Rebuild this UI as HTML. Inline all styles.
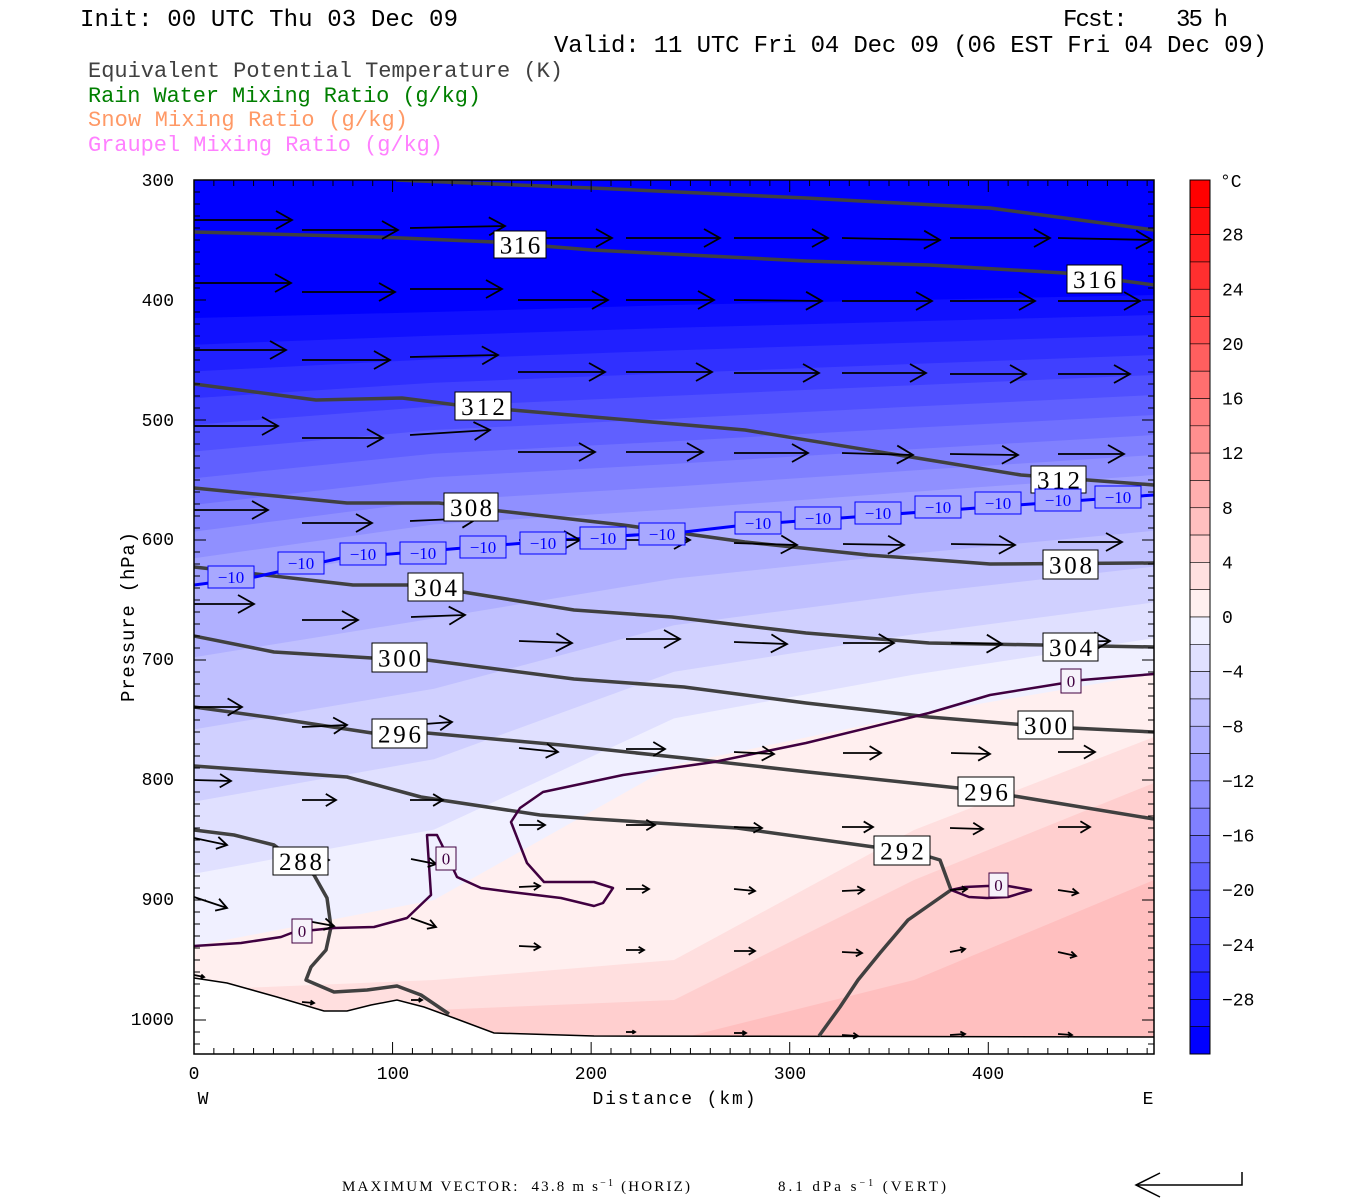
<!DOCTYPE html>
<html><head><meta charset="utf-8"><style>
html,body{margin:0;padding:0;background:#fff;width:1350px;height:1200px;overflow:hidden}
svg{display:block}
text{font-family:"Liberation Mono",monospace}
</style></head><body>
<svg id="s" width="1350" height="1200" viewBox="0 0 1350 1200" xmlns="http://www.w3.org/2000/svg">
<defs><clipPath id="pc"><rect x="194" y="180" width="960" height="874"/></clipPath></defs>
<g id="bands" clip-path="url(#pc)"></g>
<g clip-path="url(#pc)">
<polygon points="194,978 227,983 277,997 324,1011 347,1011 371,1005 397,1000 424,1007 454,1018 494,1033 594,1036 1154,1037 1154,1060 194,1060" fill="#fff"/>
<polyline points="194,978 227,983 277,997 324,1011 347,1011 371,1005 397,1000 424,1007 454,1018 494,1033 594,1036 1154,1037" fill="none" stroke="#000" stroke-width="1.5"/>
<g fill="none" stroke="#404040" stroke-width="3.5" stroke-linejoin="round">
<polyline points="396,180 592,188 806,198 990,208 1154,230"/>
<polyline points="194,232 378,237 494,242 592,250 806,261 929,265 1064,273 1154,285"/>
<polyline points="194,384 316,400 402,398 457,405 512,410 745,430 917,458 1021,475 1154,485"/>
<polyline points="194,488 347,503 439,503 500,511 623,525 745,542 868,555 990,564 1154,563"/>
<polyline points="194,567 353,585 408,585 463,592 574,610 672,617 806,633 929,643 1154,647"/>
<polyline points="194,636 274,652 372,658 427,660 574,679 684,687 806,703 929,717 1051,727 1154,732"/>
<polyline points="194,707 274,718 372,733 427,733 561,745 684,758 808,772 958,788 1014,796 1154,819"/>
<polyline points="194,766 347,777 421,797 540,815 594,819 737,828 874,847 930,857 940,860 951,890 908,920 880,953 858,980 840,1007 819,1036"/>
<polyline points="194,830 234,835 274,845 314,875 327,898 331,927 326,950 311,967 306,980 334,992 367,990 397,986 421,995 449,1014"/>
</g>
<polyline points="194,585 255,577 341,558 463,548 586,538 684,532 745,525 1154,495" fill="none" stroke="#0000ff" stroke-width="3"/>
<g fill="none" stroke="#400040" stroke-width="2.5" stroke-linejoin="round">
<polyline points="194,946 241,943 281,937 294,932 334,928 374,927 407,918 431,895 427,835 437,835 442,845 457,877 481,888 511,892 561,898 594,906 603,903 613,888 594,882 544,882 527,863 511,822 520,808 543,792 623,775 714,762 806,743 929,713 990,695 1064,683 1082,680 1154,674"/>
<polygon points="951,890 969,897 987,898 1008,897 1031,890 1008,886 987,886 965,887"/>
</g>
<g id="arrows" stroke="#000" stroke-width="1.8" fill="none"></g>
</g>
<g id="labels"></g>
<rect x="194" y="180" width="960" height="874" fill="none" stroke="#000" stroke-width="1.5"/>
<g id="ticks" stroke="#000" stroke-width="1"></g>
<g id="cbar"></g>
<g font-size="18" text-anchor="end">
<text x="174" y="186">300</text><text x="174" y="306">400</text><text x="174" y="426">500</text><text x="174" y="545">600</text><text x="174" y="665">700</text><text x="174" y="785">800</text><text x="174" y="905">900</text><text x="174" y="1025">1000</text>
</g>
<g font-size="18" text-anchor="middle">
<text x="194" y="1079">0</text><text x="393" y="1079">100</text><text x="591" y="1079">200</text><text x="790" y="1079">300</text><text x="988" y="1079">400</text>
<text x="203" y="1104">W</text><text x="1148" y="1104">E</text>
<text x="674" y="1104" textLength="163">Distance (km)</text>
</g>
<text transform="translate(134,617) rotate(-90)" font-size="19" text-anchor="middle" textLength="170">Pressure (hPa)</text>
<text x="80" y="26" font-size="24" textLength="378">Init: 00 UTC Thu 03 Dec 09</text>
<text x="1063" y="26" font-size="24" textLength="165" xml:space="preserve">Fcst:    35 h</text>
<text x="554" y="52" font-size="24" textLength="713">Valid: 11 UTC Fri 04 Dec 09 (06 EST Fri 04 Dec 09)</text>
<text x="88" y="77" font-size="22" fill="#404040" textLength="475">Equivalent Potential Temperature (K)</text>
<text x="88" y="102" font-size="22" fill="#007f00" textLength="393">Rain Water Mixing Ratio (g/kg)</text>
<text x="88" y="126" font-size="22" fill="#ff9966" textLength="320">Snow Mixing Ratio (g/kg)</text>
<text x="88" y="151" font-size="22" fill="#ff80ff" textLength="355">Graupel Mixing Ratio (g/kg)</text>
<text x="342" y="1191" font-size="15" textLength="348" style="font-family:'Liberation Serif',serif" xml:space="preserve">MAXIMUM VECTOR:  43.8 m s<tspan dy="-5" font-size="10">−1</tspan><tspan dy="5"> (HORIZ)</tspan></text>
<text x="778" y="1191" font-size="15" textLength="168" style="font-family:'Liberation Serif',serif">8.1 dPa s<tspan dy="-5" font-size="10">−1</tspan><tspan dy="5"> (VERT)</tspan></text>
<g stroke="#000" stroke-width="1.5" fill="none"><polyline points="1242,1172 1242,1185 1136,1185"/><polyline points="1160,1173 1136,1185 1160,1197"/></g>
</svg>
<script>
var NS="http://www.w3.org/2000/svg";
function el(p,t,a,txt){var e=document.createElementNS(NS,t);for(var k in a)e.setAttribute(k,a[k]);if(txt!=null)e.textContent=txt;p.appendChild(e);return e;}
function col(T){
  var i=Math.round(T/2);
  if(i<0){var v=Math.round((16+i)*16);v=Math.min(v,240);return "rgb("+v+","+v+",255)";}
  var v=Math.round(255-(i+1)*16);v=Math.max(v,0);return "rgb(255,"+v+","+v+")";
}
var cb=document.getElementById("cbar");
for(var b=0;b<32;b++){var T=30-2*b;var y=180+b*874/32;el(cb,"rect",{x:1190,y:y,width:20,height:874/32,fill:col(T),stroke:"#000","stroke-width":0.6});}
el(cb,"rect",{x:1190,y:180,width:20,height:874,fill:"none",stroke:"#000","stroke-width":1});
el(cb,"text",{x:1220,y:187,"font-size":"18"},"°C");
for(var v=28;v>=-28;v-=4){var y=180+(32-v)*874/64;el(cb,"text",{x:1222,y:y+6,"font-size":"18"},(v<0?"−":"")+Math.abs(v));}
var xs=[194,434,674,914,1154];
var Y={"-30":[318,312,305,300,295],"-10":[585,548,532,513,495],"0":[946,900,765,715,674],
"2":[990,980,960,830,737],"4":[1100,1010,1000,880,783],"6":[1100,1100,1040,980,880]};
function yT(T,i){
 if(Y[T]!==undefined)return Y[T][i];
 if(T<-30)return 180;
 if(T<-10){var f=(T+30)/20;return Y["-30"][i]+f*(Y["-10"][i]-Y["-30"][i]);}
 if(T<0){var f=(T+10)/10;return Y["-10"][i]+f*(Y["0"][i]-Y["-10"][i]);}
 return 1100;}
var bg=document.getElementById("bands");
el(bg,"rect",{x:194,y:180,width:960,height:874,fill:col(-32)});
for(var T=-30;T<=6;T+=2){var pts=[];for(var i=0;i<5;i++)pts.push(xs[i]+","+yT(T,i));pts.push("1154,1100","194,1100");el(bg,"polygon",{points:pts.join(" "),fill:col(T)});}
var A=[[194,220,292,220],[302,230,398,230],[410,228,505,226],[518,238,612,238],[626,238,720,238],[734,238,828,238],[842,238,940,240],[950,238,1050,238],[1058,238,1152,240],
[194,283,291,283],[302,292,395,292],[410,289,502,289],[518,300,608,300],[626,300,714,300],[734,300,822,301],[842,301,932,301],[950,301,1035,301],[1058,301,1140,301],
[194,350,286,350],[302,360,390,360],[410,357,498,355],[518,372,605,372],[626,372,712,372],[734,373,819,373],[842,373,926,373],[950,374,1026,374],[1058,374,1130,374],
[194,426,278,426],[302,438,383,438],[410,435,490,430],[518,452,595,452],[626,452,703,452],[734,453,808,453],[842,453,913,455],[950,454,1018,455],[1058,454,1124,454],
[194,510,268,510],[302,523,372,523],[410,521,478,518],[519,540,580,540],[626,540,690,540],[734,543,797,545],[843,544,904,545],[951,544,1015,545],[1058,542,1122,542],
[194,604,254,604],[302,620,358,620],[411,617,465,615],[519,641,572,643],[626,639,680,639],[734,642,787,644],[843,643,894,643],[951,643,1002,644],[1058,642,1110,641],
[194,707,242,707],[302,727,347,725],[411,725,452,722],[519,748,558,752],[626,749,665,749],[734,752,774,754],[843,753,881,753],[951,753,990,754],[1058,752,1095,752],
[194,780,231,781],[302,800,336,800],[410,800,443,800],[519,825,545,825],[626,825,655,825],[734,827,762,828],[842,827,873,827],[950,828,983,829],[1058,827,1090,827],
[194,838,227,845],[304,860,329,860],[411,859,436,864],[519,887,540,886],[626,889,649,889],[734,889,755,891],[842,891,864,890],[950,890,967,889],[1058,890,1078,893],
[194,897,227,908],[302,920,334,926],[411,918,436,927],[519,946,540,947],[626,950,644,950],[734,951,755,951],[842,952,862,953],[950,952,965,949],[1058,952,1076,956],
[194,975,204,977],[302,1002,314,1003],[411,1000,422,1000],[626,1032,635,1032],[734,1033,746,1033],[842,1035,858,1036],[950,1035,965,1034],[1058,1034,1072,1035]];
var ag=document.getElementById("arrows");
A.forEach(function(a){var dx=a[2]-a[0],dy=a[3]-a[1],L=Math.hypot(dx,dy),ux=dx/L,uy=dy/L;
 var h=Math.min(16,L*0.3),w=Math.min(9,L*0.18);
 var bx=a[2]-ux*h,by=a[3]-uy*h;
 el(ag,"line",{x1:a[0],y1:a[1],x2:a[2],y2:a[3]});
 el(ag,"polyline",{points:(bx-uy*w)+","+(by+ux*w)+" "+a[2]+","+a[3]+" "+(bx+uy*w)+","+(by-ux*w)});});
var lg=document.getElementById("labels");
function lab(x1,y1,x2,y2,t,c,fs,fill,tl){el(lg,"rect",{x:x1,y:y1,width:x2-x1,height:y2-y1,fill:fill,stroke:c,"stroke-width":1});
 var a={x:(x1+x2)/2,y:(y1+y2)/2+fs*0.36,"font-size":fs,"text-anchor":"middle",fill:c,"style":"font-family:'Liberation Serif',serif"};
 if(tl)a.textLength=(x2-x1)*0.78;
 el(lg,"text",a,t);}
[[494,231,546,258,"316"],[1067,265,1122,293,"316"],[455,392,511,420,"312"],[1031,466,1086,493,"312"],[444,493,498,521,"308"],[1043,550,1098,579,"308"],
[408,573,463,601,"304"],[1043,633,1098,661,"304"],[372,643,427,672,"300"],[1018,711,1073,739,"300"],[372,719,427,748,"296"],[958,777,1014,806,"296"],
[874,836,930,865,"292"],[273,847,328,875,"288"]].forEach(function(l){lab(l[0],l[1],l[2],l[3],l[4],"#000",25,"#fff",true);});
[[231,577],[301,563],[363,554],[423,553],[483,547],[543,543],[603,538],[662,534],[758,523],[818,518],[878,513],[938,507],[998,503],[1058,500],[1118,497]].forEach(function(p){
 lab(p[0]-23,p[1]-11,p[0]+23,p[1]+11,"−10","#0000ff",17,"#a8a8ff",false);});
[[292,919,312,943],[436,847,456,870],[1061,669,1081,693],[989,873,1008,897]].forEach(function(l){lab(l[0],l[1],l[2],l[3],"0","#400040",17,"#f6f2fa",false);});
var tg=document.getElementById("ticks");
for(var p=300;p<=1020;p+=10){var y=180+(p-300)*1.2;var L=(p%100==0)?12:6;
 el(tg,"line",{x1:194,y1:y,x2:194+L,y2:y});el(tg,"line",{x1:1154,y1:y,x2:1154-L,y2:y});}
for(var k=0;k<=480;k+=10){var x=194+k*1.9857;var L=(k%100==0)?12:6;
 el(tg,"line",{x1:x,y1:1054,x2:x,y2:1054-L});el(tg,"line",{x1:x,y1:180,x2:x,y2:180+L});}
</script>
</body></html>
